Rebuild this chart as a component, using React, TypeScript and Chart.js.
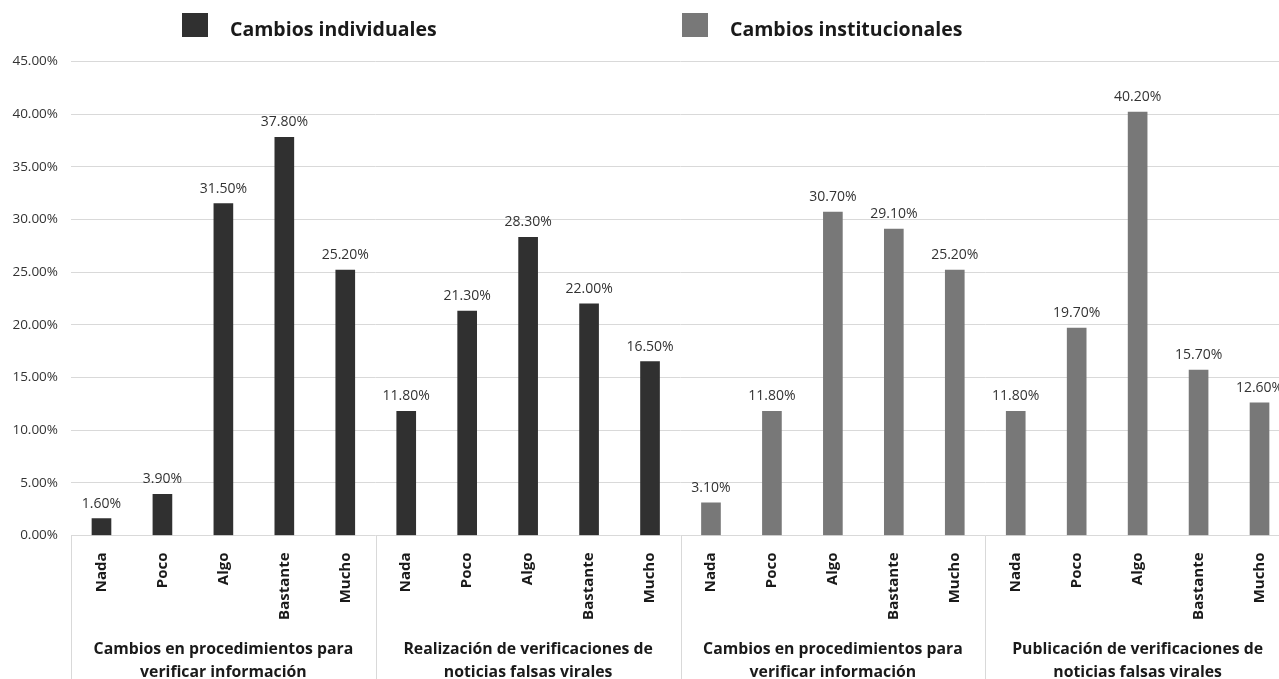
import React, { useEffect, useRef } from "react";
import { Chart, registerables } from "chart.js";

Chart.register(...registerables);

// Response levels repeated under each of the four questions
const levels = ["Nada", "Poco", "Algo", "Bastante", "Mucho"];
const categories = [...levels, ...levels, ...levels, ...levels];

const groupTitles = [
  ["Cambios en procedimientos para", "verificar información"],
  ["Realización de verificaciones de", "noticias falsas virales"],
  ["Cambios en procedimientos para", "verificar información"],
  ["Publicación de verificaciones de", "noticias falsas virales"],
];

const seriesNames = ["Cambios individuales", "Cambios institucionales"];
const seriesColors = ["#303030", "#787878"];

// Percentages for the first two questions (individual changes)
const individualValues = [1.6, 3.9, 31.5, 37.8, 25.2, 11.8, 21.3, 28.3, 22.0, 16.5];
// Percentages for the last two questions (institutional changes)
const institutionalValues = [3.1, 11.8, 30.7, 29.1, 25.2, 11.8, 19.7, 40.2, 15.7, 12.6];

const yMax = 45;
const yStep = 5;

const FONT = "'Open Sans', sans-serif";
const empty = (n: number) => Array.from({ length: n }, () => null as number | null);

// Legend drawn across the top of the canvas
const topLegend = {
  id: "topLegend",
  afterDraw(chart: any) {
    const { ctx } = chart;
    const starts = [182, 682];
    ctx.save();
    chart.data.datasets.forEach((ds: any, i: number) => {
      const x = starts[i];
      ctx.fillStyle = ds.backgroundColor;
      ctx.fillRect(x, 13, 26, 24);
      ctx.fillStyle = "#1a1a1a";
      ctx.font = `bold 19.5px ${FONT}`;
      ctx.textAlign = "left";
      ctx.textBaseline = "middle";
      ctx.fillText(ds.label, x + 48, 30);
    });
    ctx.restore();
  },
};

// Value labels above every bar
const barValues = {
  id: "barValues",
  afterDatasetsDraw(chart: any) {
    const { ctx } = chart;
    ctx.save();
    ctx.font = `14px ${FONT}`;
    ctx.fillStyle = "#333";
    ctx.textAlign = "center";
    ctx.textBaseline = "bottom";
    chart.data.datasets.forEach((ds: any, di: number) => {
      const meta = chart.getDatasetMeta(di);
      meta.data.forEach((bar: any, i: number) => {
        const v = ds.data[i];
        if (v === null || v === undefined) return;
        ctx.fillText(`${v.toFixed(2)}%`, bar.x, bar.y - 8);
      });
    });
    ctx.restore();
  },
};

// Group separators and question titles under the level labels
const groupAxis = {
  id: "groupAxis",
  afterDraw(chart: any) {
    const { ctx, chartArea, scales } = chart;
    const x = scales.x;
    const per = levels.length;
    const bottom = chart.height;
    ctx.save();
    ctx.strokeStyle = "#d9d9d9";
    ctx.lineWidth = 1;
    const edges: number[] = [chartArea.left];
    for (let g = 1; g < groupTitles.length; g++) {
      edges.push((x.getPixelForValue(g * per - 1) + x.getPixelForValue(g * per)) / 2);
    }
    edges.push(chartArea.right);
    edges.forEach((ex) => {
      const px = Math.round(ex) + 0.5;
      ctx.beginPath();
      ctx.moveTo(px, chartArea.bottom);
      ctx.lineTo(px, bottom);
      ctx.stroke();
    });
    ctx.fillStyle = "#1a1a1a";
    ctx.font = `bold 15.8px ${FONT}`;
    ctx.textAlign = "center";
    ctx.textBaseline = "middle";
    groupTitles.forEach((lines, g) => {
      const cx = (x.getPixelForValue(g * per) + x.getPixelForValue(g * per + per - 1)) / 2;
      lines.forEach((line, li) => {
        ctx.fillText(line, cx, 649 + li * 23);
      });
    });
    ctx.restore();
  },
};

export default function App() {
  const canvasRef = useRef<HTMLCanvasElement | null>(null);

  useEffect(() => {
    if (!canvasRef.current) return;
    const chart = new Chart(canvasRef.current, {
      type: "bar",
      data: {
        labels: categories,
        datasets: [
          {
            label: seriesNames[0],
            data: [...individualValues, ...empty(institutionalValues.length)],
            backgroundColor: seriesColors[0],
            barThickness: 19,
            grouped: false,
          },
          {
            label: seriesNames[1],
            data: [...empty(individualValues.length), ...institutionalValues],
            backgroundColor: seriesColors[1],
            barThickness: 19,
            grouped: false,
          },
        ],
      },
      options: {
        responsive: false,
        animation: false,
        layout: { padding: { top: 61.5, right: 10, left: 0, bottom: 0 } },
        plugins: {
          legend: { display: false },
          tooltip: { enabled: false },
        },
        scales: {
          x: {
            type: "category",
            offset: true,
            grid: { display: false, drawTicks: false },
            border: { display: false },
            ticks: {
              autoSkip: false,
              minRotation: 90,
              maxRotation: 90,
              padding: 17,
              color: "#1a1a1a",
              font: { family: FONT, size: 15, weight: "bold" },
            },
            afterFit: (s: any) => {
              s.height = 143.5;
            },
          },
          y: {
            min: 0,
            max: yMax,
            grid: { color: "#d9d9d9", lineWidth: 1, drawTicks: false },
            border: { display: false },
            ticks: {
              stepSize: yStep,
              padding: 13,
              color: "#333",
              font: { family: FONT, size: 13.5 },
              callback: (v: any) => `${Number(v).toFixed(2)}%`,
            },
            afterFit: (s: any) => {
              s.width = 71;
            },
          },
        },
      },
      plugins: [topLegend, barValues, groupAxis],
    });
    return () => chart.destroy();
  }, []);

  return (
    <div
      style={{
        position: "absolute",
        left: 0,
        top: 0,
        width: 1279,
        height: 679,
        overflow: "hidden",
        background: "#fff",
      }}
    >
      <canvas ref={canvasRef} width={1300} height={679} style={{ display: "block" }} />
    </div>
  );
}
